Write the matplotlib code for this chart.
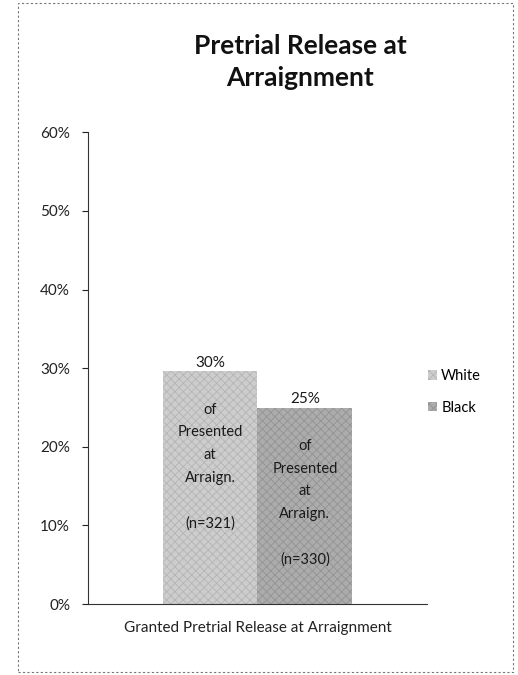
import matplotlib
matplotlib.use("Agg")
import matplotlib.pyplot as plt
import matplotlib.patches as patches
import numpy as np

categories = ["Granted Pretrial Release at Arraignment"]
series = ["White", "Black"]
values = [29.6, 25.0]
pct_labels = ["30%", "25%"]
inner_labels = ["of\nPresented\nat\nArraign.\n\n(n=321)",
                "of\nPresented\nat\nArraign.\n\n(n=330)"]
yticks = [0, 10, 20, 30, 40, 50, 60]

plt.rcParams["font.family"] = ["Lato", "DejaVu Sans"]
plt.rcParams["hatch.linewidth"] = 0.6

fig = plt.figure(figsize=(5.18, 6.75), dpi=100)
ax = fig.add_axes([0.170, 0.105, 0.654, 0.699])

colors = ["#cdcdcd", "#acacac"]
hatch_colors = ["#b4b4b4", "#939393"]
width = 0.28
offsets = [-width / 2, width / 2]
for i, name in enumerate(series):
    plt.rcParams["hatch.color"] = hatch_colors[i]
    ax.bar(offsets[i], values[i], width=width, color=colors[i],
           edgecolor=hatch_colors[i], hatch="xxxx", lw=0, label=name)
    ax.text(offsets[i], values[i] + 0.2, pct_labels[i],
            ha="center", va="bottom", fontsize=11, color="#1a1a1a")
    ax.text(offsets[i], values[i] - 4.0, inner_labels[i],
            ha="center", va="top",
            fontsize=10.5, color="#1a1a1a", linespacing=1.78)

ax.set_xlim(-0.5, 0.5)
ax.set_ylim(0, 60)
ax.set_yticks(yticks)
ax.set_yticklabels(["{}%".format(t) for t in yticks], fontsize=11)
ax.set_xticks([])
ax.spines["top"].set_visible(False)
ax.spines["right"].set_visible(False)
ax.spines["left"].set_color("#333333")
ax.spines["bottom"].set_color("#333333")
ax.tick_params(axis="y", length=4, pad=9, colors="#222222")

fig.text(258 / 518, 1 - 628 / 675, categories[0], ha="center",
         va="center", fontsize=11, color="#222222")

fig.text(300 / 518, 1 - 62 / 675, "Pretrial Release at\nArraignment",
         ha="center", va="center", fontsize=19, fontweight="bold",
         linespacing=1.45, color="#111111")

fig.legend(loc="center left", bbox_to_anchor=(415 / 518, 1 - 392 / 675),
           frameon=False, fontsize=10.5, handlelength=0.6,
           handleheight=0.6, handletextpad=0.3, labelspacing=1.2)

frame = patches.Rectangle((18 / 518, 3 / 675), 495 / 518, 669 / 675,
                          transform=fig.transFigure, fill=False,
                          ls=(0, (2, 2)), lw=0.8, edgecolor="#777777")
fig.patches.append(frame)

fig.savefig("out.png", dpi=100)
